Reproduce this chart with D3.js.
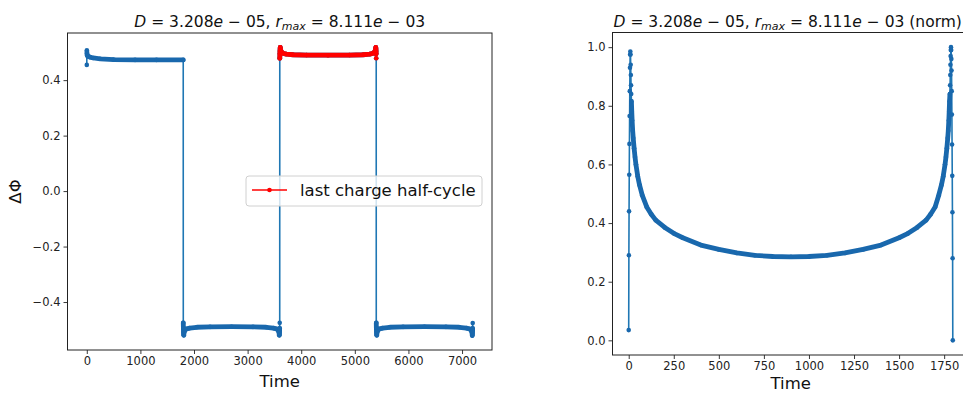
<!DOCTYPE html>
<html>
<head>
<meta charset="utf-8">
<script src="https://cdn.jsdelivr.net/npm/d3@7"></script>
<style>
  body { margin: 0; background: #fff; }
  svg { display: block; font-family: "DejaVu Sans", sans-serif; }
</style>
</head>
<body>
<div id="chart"></div>
<script>
// ---- data ----
// left panel: delta phi over four half-cycles
var halfTime1 = [0, 1, 2, 3, 5, 8, 15, 30, 60, 120, 250, 500, 900, 1300, 1799];
var halfPhi1  = [0.455, 0.508, 0.503, 0.498, 0.494, 0.49, 0.487, 0.485, 0.483, 0.48, 0.477, 0.474, 0.473, 0.473, 0.473];

var halfTime2 = [1800, 1802, 1804, 1806, 1809, 1815, 1830, 1860, 1920, 2050, 2300, 2700, 3100, 3350, 3480, 3540, 3570, 3585, 3591, 3594, 3596, 3598, 3599];
var halfPhi2  = [-0.475, -0.495, -0.507, -0.515, -0.52, -0.51, -0.502, -0.497, -0.494, -0.491, -0.4895, -0.489, -0.4895, -0.491, -0.494, -0.497, -0.502, -0.51, -0.52, -0.515, -0.507, -0.495, -0.475];

// last charge half-cycle (red)
var halfTime3 = [3600, 3602, 3604, 3606, 3609, 3615, 3630, 3660, 3720, 3850, 4100, 4500, 4900, 5150, 5280, 5340, 5370, 5385, 5391, 5394, 5396, 5398, 5399];
var halfPhi3  = [0.479, 0.495, 0.505, 0.512, 0.518, 0.509, 0.502, 0.497, 0.494, 0.4915, 0.4905, 0.49, 0.4905, 0.4915, 0.494, 0.497, 0.502, 0.509, 0.518, 0.512, 0.505, 0.495, 0.479];

var halfTime4 = [5400, 5402, 5404, 5406, 5409, 5415, 5430, 5460, 5520, 5650, 5900, 6300, 6700, 6950, 7080, 7140, 7170, 7185, 7191, 7194, 7196, 7198, 7199];
var halfPhi4  = [-0.475, -0.495, -0.507, -0.515, -0.52, -0.51, -0.502, -0.497, -0.494, -0.491, -0.4895, -0.489, -0.4895, -0.491, -0.494, -0.497, -0.502, -0.51, -0.521, -0.515, -0.507, -0.495, -0.476];

// right panel: normalised last half-cycle
var normTime = [0, 1, 2, 3, 4, 5, 6, 7, 8, 9, 10, 11, 12, 13, 14, 15, 17, 19, 22, 25, 30, 35, 40, 50, 60, 75, 100, 125, 150, 200, 250, 300, 400, 500, 600, 700, 800, 900,
                1000, 1100, 1200, 1300, 1400, 1500, 1550, 1600, 1650, 1675, 1700, 1720, 1735, 1745, 1755, 1760, 1765, 1770, 1773, 1776, 1778, 1780, 1782, 1783, 1784, 1785, 1786, 1787, 1788,
                1789, 1790, 1791, 1792, 1793, 1794, 1795, 1796, 1797, 1798];
var normVal  = [0.035, 0.29, 0.44, 0.565, 0.67, 0.765, 0.85, 0.93, 0.975, 0.985, 0.975, 0.94, 0.905, 0.87, 0.84, 0.815, 0.78, 0.75, 0.715, 0.69, 0.655, 0.625, 0.6, 0.56, 0.53, 0.495, 0.455, 0.43, 0.41, 0.385, 0.365, 0.35, 0.325, 0.31, 0.298, 0.29, 0.286, 0.285,
                0.286, 0.29, 0.298, 0.31, 0.325, 0.35, 0.365, 0.385, 0.41, 0.43, 0.455, 0.495, 0.53, 0.56, 0.6, 0.625, 0.655, 0.69, 0.715, 0.75, 0.78, 0.815, 0.84, 0.87, 0.905, 0.94, 0.97, 0.99, 1.0,
                0.99, 0.96, 0.92, 0.85, 0.77, 0.668, 0.561, 0.437, 0.28, 0.0];

var xTicksLeft = [0, 1000, 2000, 3000, 4000, 5000, 6000, 7000];
var yTicksLeft = [-0.4, -0.2, 0.0, 0.2, 0.4];
var xTicksRight = [0, 250, 500, 750, 1000, 1250, 1500, 1750];
var yTicksRight = [0.0, 0.2, 0.4, 0.6, 0.8, 1.0];
var legendLabel = "last charge half-cycle";

var blue = "#1f77b4", blueDots = "#1968ad", red = "#ff0000";

// ---- layout ----
var W = 963, H = 393;
var svg = d3.select("#chart").append("svg")
    .attr("width", W)
    .attr("height", H);

function zip(ts, vs) { return ts.map(function(t, i){ return { t: t, v: vs[i] }; }); }
// matplotlib style 5% margins
function padded(ext) { var s = ext[1] - ext[0]; return [ext[0] - 0.05 * s, ext[1] + 0.05 * s]; }

var blueData = zip([].concat(halfTime1, halfTime2, halfTime3, halfTime4),
                   [].concat(halfPhi1, halfPhi2, halfPhi3, halfPhi4));
var redData = zip(halfTime3, halfPhi3);
var normData = zip(normTime, normVal);

function makeAxes(box, data, xt, yt, yfmt) {
    var x = d3.scaleLinear().domain(padded(d3.extent(data, function(d){ return d.t; }))).range([box.x0, box.x1]);
    var y = d3.scaleLinear().domain(padded(d3.extent(data, function(d){ return d.v; }))).range([box.y1, box.y0]);

    var xa = svg.append("g")
        .attr("transform", "translate(0," + box.y1 + ")")
        .call(d3.axisBottom(x).tickValues(xt).tickSize(4).tickSizeOuter(0).tickPadding(3).tickFormat(d3.format("d")));
    var ya = svg.append("g")
        .attr("transform", "translate(" + box.x0 + ",0)")
        .call(d3.axisLeft(y).tickValues(yt).tickSize(4).tickSizeOuter(0).tickPadding(3).tickFormat(d3.format(yfmt)));
    [xa, ya].forEach(function(a){
        a.select(".domain").remove();
        a.selectAll(".tick line").attr("stroke", "#222").attr("stroke-width", 0.9);
        a.selectAll(".tick text").attr("fill", "#222").attr("font-size", "11.5px")
            .attr("font-family", "DejaVu Sans, sans-serif");
    });
    return { x: x, y: y };
}

// draws a ".-" series: thin line, a dense marker band where samples were skipped, and dots
function drawSeries(sc, data, color, dotColor) {
    var line = d3.line().x(function(d){ return sc.x(d.t); }).y(function(d){ return sc.y(d.v); });
    svg.append("path").datum(data)
        .attr("d", line)
        .attr("fill", "none")
        .attr("stroke", color)
        .attr("stroke-width", 1.6);

    // runs of consecutive samples with gaps > 1 step stand for many overlapping markers
    var runs = [], cur = null;
    for (var i = 1; i < data.length; i++) {
        if (data[i].t - data[i - 1].t > 1) {
            if (!cur) { cur = [data[i - 1]]; runs.push(cur); }
            cur.push(data[i]);
        } else {
            cur = null;
        }
    }
    svg.selectAll(null).data(runs).enter().append("path")
        .attr("d", line)
        .attr("fill", "none")
        .attr("stroke", dotColor)
        .attr("stroke-width", 4.8)
        .attr("stroke-linecap", "round")
        .attr("stroke-linejoin", "round");

    svg.selectAll(null).data(data).enter().append("circle")
        .attr("cx", function(d){ return sc.x(d.t); })
        .attr("cy", function(d){ return sc.y(d.v); })
        .attr("r", 2.3)
        .attr("fill", dotColor);
}

function spines(box) {
    svg.append("rect")
        .attr("x", box.x0).attr("y", box.y0)
        .attr("width", box.x1 - box.x0).attr("height", box.y1 - box.y0)
        .attr("fill", "none").attr("stroke", "#222").attr("stroke-width", 1);
}

function mathTitle(cx, y, suffix) {
    var t = svg.append("text")
        .attr("x", cx).attr("y", y)
        .attr("text-anchor", "middle")
        .attr("font-size", "15.5px")
        .attr("fill", "#111");
    t.append("tspan").attr("font-style", "italic").text("D");
    t.append("tspan").text(" = 3.208");
    t.append("tspan").attr("font-style", "italic").text("e");
    t.append("tspan").text(" \u2212 05, ");
    t.append("tspan").attr("font-style", "italic").text("r");
    t.append("tspan").attr("font-style", "italic").attr("font-size", "11px").attr("dy", 3).text("max");
    t.append("tspan").attr("dy", -3).text(" = 8.111");
    t.append("tspan").attr("font-style", "italic").text("e");
    t.append("tspan").text(" \u2212 03" + suffix);
}

// ---- left panel ----
var boxL = { x0: 67.5, x1: 492, y0: 33, y1: 350 };
var scL = makeAxes(boxL, blueData, xTicksLeft, yTicksLeft, ".1f");
drawSeries(scL, blueData, blue, blueDots);
drawSeries(scL, redData, red, red);
spines(boxL);
mathTitle((boxL.x0 + boxL.x1) / 2, 27, "");

svg.append("text")
    .attr("x", (boxL.x0 + boxL.x1) / 2).attr("y", 387)
    .attr("text-anchor", "middle").attr("font-size", "16.5px").attr("fill", "#111")
    .text("Time");
svg.append("text")
    .attr("transform", "translate(21," + ((boxL.y0 + boxL.y1) / 2) + ") rotate(-90)")
    .attr("text-anchor", "middle").attr("font-size", "16.5px").attr("fill", "#111")
    .text("\u0394\u03A6");

// legend (center right)
var lg = svg.append("g").attr("transform", "translate(246,176)");
lg.append("rect")
    .attr("width", 236).attr("height", 30).attr("rx", 3)
    .attr("fill", "#fff").attr("fill-opacity", 0.8)
    .attr("stroke", "#d0d0d0").attr("stroke-width", 1);
lg.append("line")
    .attr("x1", 6).attr("x2", 41).attr("y1", 14).attr("y2", 14)
    .attr("stroke", red).attr("stroke-width", 1.6);
lg.append("circle").attr("cx", 23.5).attr("cy", 14).attr("r", 2.3).attr("fill", red);
lg.append("text")
    .attr("x", 54).attr("y", 20)
    .attr("font-size", "16.5px").attr("fill", "#111")
    .text(legendLabel);

// ---- right panel ----
var boxR = { x0: 612.5, x1: 969, y0: 32.5, y1: 355 };
var scR = makeAxes(boxR, normData, xTicksRight, yTicksRight, ".1f");
drawSeries(scR, normData, blue, blueDots);
spines(boxR);
// the axes runs past the window edge, so keep the title inside it
mathTitle((boxR.x0 + boxR.x1) / 2 - 3, 27, " (norm)");

svg.append("text")
    .attr("x", (boxR.x0 + boxR.x1) / 2).attr("y", 389)
    .attr("text-anchor", "middle").attr("font-size", "16.5px").attr("fill", "#111")
    .text("Time");
</script>
</body>
</html>
